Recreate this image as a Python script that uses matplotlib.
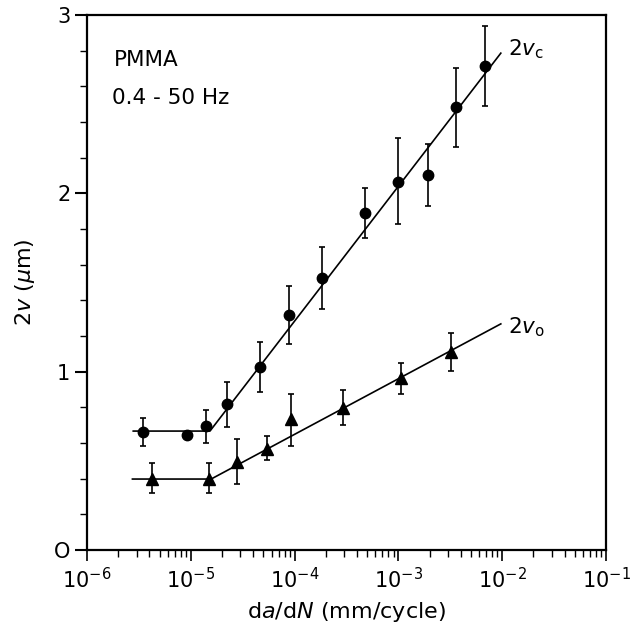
import matplotlib
matplotlib.use("Agg")
import matplotlib.pyplot as plt
from matplotlib.ticker import LogLocator, MultipleLocator, NullFormatter, FixedLocator

plt.rcParams['font.family'] = ['DejaVu Sans']
plt.rcParams['mathtext.fontset'] = 'dejavusans'

# 2v_c data (circles)
circ_x = [3.48e-6, 9.2e-6, 1.41e-5, 2.23e-5, 4.65e-5, 8.9e-5, 1.82e-4, 4.74e-4, 9.9e-4, 1.91e-3, 3.55e-3, 6.9e-3]
circ_y = [0.664, 0.643, 0.695, 0.817, 1.028, 1.318, 1.524, 1.888, 2.066, 2.103, 2.483, 2.716]
circ_lo = [0.585, 0.63, 0.602, 0.688, 0.886, 1.155, 1.35, 1.748, 1.83, 1.93, 2.26, 2.49]
circ_hi = [0.742, 0.66, 0.785, 0.942, 1.168, 1.482, 1.70, 2.03, 2.31, 2.277, 2.70, 2.94]

# 2v_o data (triangles)
tri_x = [4.27e-6, 1.51e-5, 2.78e-5, 5.48e-5, 9.3e-5, 2.92e-4, 1.07e-3, 3.2e-3]
tri_y = [0.398, 0.398, 0.495, 0.566, 0.733, 0.798, 0.963, 1.112]
tri_lo = [0.32, 0.32, 0.37, 0.505, 0.585, 0.703, 0.875, 1.004]
tri_hi = [0.49, 0.49, 0.621, 0.638, 0.873, 0.896, 1.05, 1.219]

# fitted lines (breakpoints)
fit_c_x = [2.79e-6, 1.53e-5, 9.7e-3]
fit_c_y = [0.667, 0.667, 2.786]
fit_o_x = [2.74e-6, 1.57e-5, 9.7e-3]
fit_o_y = [0.398, 0.398, 1.268]

fig = plt.figure(figsize=(6.41, 6.32), dpi=100)
ax = fig.add_axes([0.1357, 0.1297, 0.8097, 0.8466])

ax.plot(fit_c_x, fit_c_y, color='black', lw=1.2)
ax.plot(fit_o_x, fit_o_y, color='black', lw=1.2)

err_c = [[y - l for y, l in zip(circ_y, circ_lo)], [h - y for y, h in zip(circ_y, circ_hi)]]
err_o = [[y - l for y, l in zip(tri_y, tri_lo)], [h - y for y, h in zip(tri_y, tri_hi)]]
ax.errorbar(circ_x, circ_y, yerr=err_c, fmt='o', color='black', ms=7.5,
            elinewidth=1.2, capsize=2, capthick=1.2)
ax.errorbar(tri_x, tri_y, yerr=err_o, fmt='^', color='black', ms=8,
            elinewidth=1.2, capsize=2, capthick=1.2)

ax.set_xscale('log')
ax.set_xlim(1e-6, 1e-1)
ax.set_ylim(0, 3)

ax.xaxis.set_major_locator(LogLocator(base=10, numticks=10))
ax.xaxis.set_minor_locator(LogLocator(base=10, subs=range(2, 10), numticks=20))
ax.xaxis.set_minor_formatter(NullFormatter())
ax.yaxis.set_major_locator(FixedLocator([0, 1, 2, 3]))
ax.yaxis.set_minor_locator(MultipleLocator(0.2))
ax.set_yticklabels(['O', '1', '2', '3'])

ax.tick_params(axis='x', which='major', direction='out', length=8, width=1.2, labelsize=15, pad=4)
ax.tick_params(axis='x', which='minor', direction='out', length=5, width=1.0)
ax.tick_params(axis='y', which='major', direction='out', length=9, width=1.5, labelsize=15, pad=3)
ax.tick_params(axis='y', which='minor', direction='out', length=5, width=1.0)

for s in ax.spines.values():
    s.set_linewidth(1.6)

ax.set_xlabel(r'd$a$/d$N$ (mm/cycle)', fontsize=16, labelpad=6)
ax.set_ylabel(r'2$v$ ($\mu$m)', fontsize=16, labelpad=12)

ax.text(0.052, 0.916, 'PMMA', transform=ax.transAxes, fontsize=15.5, va='center', ha='left')
ax.text(0.048, 0.845, '0.4 - 50 Hz', transform=ax.transAxes, fontsize=15.5, va='center', ha='left')
ax.text(1.15e-2, 2.81, r'2$v_\mathrm{c}$', fontsize=15.5, va='center', ha='left')
ax.text(1.15e-2, 1.25, r'2$v_\mathrm{o}$', fontsize=15.5, va='center', ha='left')

fig.savefig('out.png', dpi=100)
